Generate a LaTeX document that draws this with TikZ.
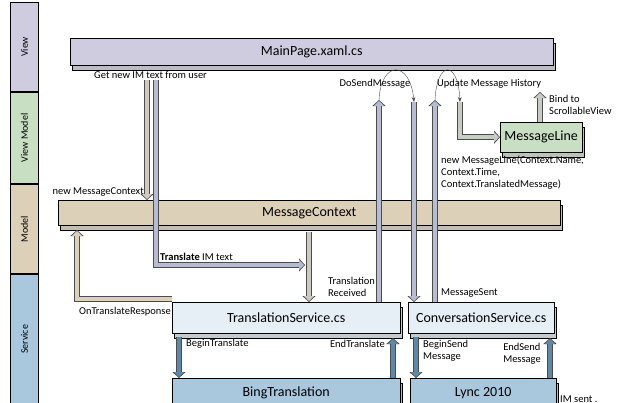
\documentclass[tikz,border=0pt]{standalone}
\usepackage{fontspec}
\setmainfont{Carlito}
\usetikzlibrary{arrows.meta,shadows}
\definecolor{viewc}{HTML}{D0CCE0}
\definecolor{vmc}{HTML}{C9DFC3}
\definecolor{modc}{HTML}{DDD0B9}
\definecolor{servc}{HTML}{A9C8DE}
\definecolor{lightsc}{HTML}{E6EFF6}
\definecolor{shaftc}{HTML}{B8BCD2}
\definecolor{darksc}{HTML}{5F88A6}
\begin{document}
\begin{tikzpicture}[x=1pt, y=-1pt,
  band/.style={draw, thick, minimum width=28pt, anchor=north west, inner sep=0pt},
  layer/.style={draw, fill=#1, anchor=north west, inner sep=0pt, font=\fontsize{14}{15}\selectfont,
    copy shadow={shadow xshift=2pt, shadow yshift=-5pt, fill=#1!70!black!60}},
  lbl/.style={font=\fontsize{10.5}{12}\selectfont, inner sep=1pt, align=left},
  fat/.style={draw=black!70, line width=6pt, -{Triangle[width=13pt,length=6pt]},
    postaction={draw=#1, line width=4.5pt, shorten >=1pt, -{Triangle[width=10pt,length=5pt]}}},
  thin/.style={-{Stealth[length=5pt]}, black!70}]

\useasboundingbox (0,0) rectangle (624,402);

% Layer bands
\node[band, fill=viewc, minimum height=89pt] (bview) at (10,2) {};
\node[band, fill=vmc, minimum height=91pt] (bvm) at (10,92) {};
\node[band, fill=modc, minimum height=89pt] (bmod) at (10,184) {};
\node[band, fill=servc, minimum height=130pt] (bserv) at (10,274) {};
\node[rotate=90, font=\fontsize{10}{11}\selectfont] at (bview) {View};
\node[rotate=90, font=\fontsize{10}{11}\selectfont] at (bvm) {View Model};
\node[rotate=90, font=\fontsize{10}{11}\selectfont] at (bmod) {Model};
\node[rotate=90, font=\fontsize{10}{11}\selectfont] at (bserv) {Service};

% Boxes
\node[layer=viewc, minimum width=483pt, minimum height=27pt] (main) at (70,38) {MainPage.xaml.cs};
\node[layer=modc, minimum width=502pt, minimum height=25pt] (ctx) at (58,200) {MessageContext};
\node[layer=vmc, minimum width=82pt, minimum height=30pt] (mline) at (500,122) {MessageLine};
\node[layer=lightsc, minimum width=228pt, minimum height=31pt] (trans) at (172,302) {TranslationService.cs};
\node[layer=lightsc, minimum width=146pt, minimum height=31pt] (conv) at (408,302) {ConversationService.cs};
\node[layer=servc, minimum width=228pt, minimum height=30pt] (bing) at (172,378) {BingTranslation};
\node[layer=servc, minimum width=146pt, minimum height=30pt] (lync) at (410,378) {Lync 2010};

% Fat arrows
\coordinate (a1) at (147,80);
\coordinate (a2) at (156,80);
\coordinate (a3) at (379,100);
\coordinate (a4) at (414,102);
\coordinate (a5) at (435,100);
\coordinate (a6) at (460,102);
\coordinate (a7) at (540,92);
\coordinate (t1) at (305,265);
\coordinate (t2) at (309,232);
\coordinate (r1) at (77,230);
\coordinate (b1) at (179,337);
\coordinate (b2) at (393,338);
\coordinate (b3) at (416,337);
\coordinate (b4) at (550,338);
\draw[fat=modc!70!shaftc] (a1) -- (a1 |- ctx.north);
\draw[fat=shaftc] (a2) |- (t1);
\draw[fat=modc!60!shaftc] (t2) -- (t2 |- trans.north);
\draw[fat=modc] ([yshift=3pt]trans.north west) -| (r1);
\draw[fat=shaftc] (a3 |- trans.north) -- (a3);
\draw[fat=shaftc] (a4) -- (a4 |- conv.north);
\draw[fat=shaftc] (a5 |- conv.north) -- (a5);
\draw[fat=vmc!70!black!50] (a6) |- (mline.west);
\draw[fat=vmc!70!black!50] (a7 |- mline.north) -- (a7);
\draw[fat=darksc] (b1) -- (b1 |- bing.north);
\draw[fat=darksc] (b2 |- bing.north) -- (b2);
\draw[fat=darksc] (b3) -- (b3 |- lync.north);
\draw[fat=darksc] (b4 |- lync.north) -- (b4);

% Thin curved arrows
\draw[thin] (a3) .. controls (381,60) and (410,60) .. (a4);
\draw[thin] (a5) .. controls (437,60) and (458,60) .. (a6);

% Labels
\node[lbl, anchor=west] at (93,75) {Get new IM text from user};
\node[lbl, anchor=east] at (145,192) {new MessageContext};
\node[lbl, anchor=west] at (159,257) {\textbf{Translate} IM text};
\node[lbl, anchor=east] at (172,312) {OnTranslateResponse};
\node[lbl, anchor=west] at (327,287) {Translation\\Received};
\node[lbl, anchor=west] at (440,293) {MessageSent};
\node[lbl, anchor=center] at (375,84) {DoSendMessage};
\node[lbl, anchor=west] at (436,84) {Update Message History};
\node[lbl, anchor=west] at (548,105) {Bind to\\ScrollableView};
\node[lbl, anchor=north west] at (440,155) {new MessageLine(Context.Name,\\Context.Time,\\Context.TranslatedMessage)};
\node[lbl, anchor=west] at (185,344) {BeginTranslate};
\node[lbl, anchor=east] at (386,344) {EndTranslate};
\node[lbl, anchor=west] at (422,351) {BeginSend\\Message};
\node[lbl, anchor=east] at (542,354) {EndSend\\Message};
\node[lbl, anchor=west] at (559,399) {IM sent .};
\end{tikzpicture}
\end{document}
